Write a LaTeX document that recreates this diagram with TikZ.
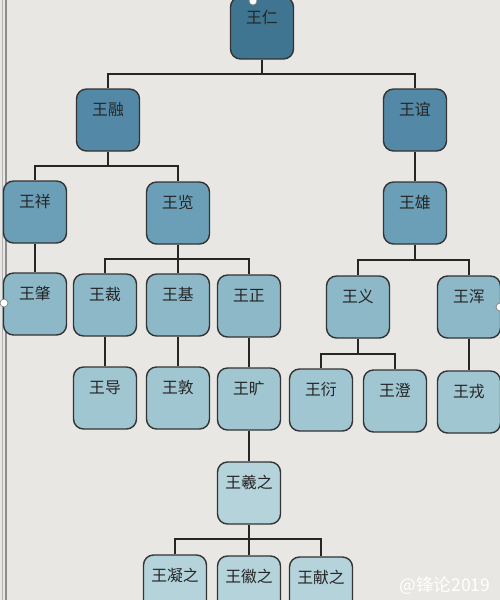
\documentclass[tikz,border=0pt]{standalone}
\usepackage{fontspec}
\newfontfamily\cjk{Noto Sans CJK SC}
\usetikzlibrary{calc}
\definecolor{paper}{RGB}{233,231,228}
\definecolor{lvA}{RGB}{63,117,144}
\definecolor{lvB}{RGB}{83,137,166}
\definecolor{lvC}{RGB}{107,159,183}
\definecolor{lvD}{RGB}{140,184,200}
\definecolor{lvE}{RGB}{160,198,210}
\definecolor{lvF}{RGB}{181,211,218}
\tikzset{
  box/.style={draw=black!80, line width=0.8pt, rounded corners=0.2cm, minimum width=1.26cm,
    inner sep=0pt, text height=0.53cm, text depth=0.71cm, text=black!85,
    font=\cjk\fontsize{9}{11}\selectfont},
  link/.style={line width=1.3pt, black!85}
}

\begin{document}
\begin{tikzpicture}[x=0.02cm, y=-0.02cm]
			%%%%% START %%%%%
			\fill[paper] (0, 0) rectangle (500, 600);
			\useasboundingbox (0, 0) rectangle (500, 600);
			\draw[black!45, line width=0.6pt] (6, 0) -- (6, 600);
			\draw[black!30, line width=0.4pt] (2, 0) -- (2, 600);
			
			% generation 1-2
			\node[box, fill=lvA] (ren) at (262, 28) {王仁};
			\node[box, fill=lvB] (rong) at (108, 120) {王融};
			\node[box, fill=lvB] (yi) at (415, 120) {王谊};
			
			% generation 3
			\node[box, fill=lvC] (xiang) at (35, 212) {王祥};
			\node[box, fill=lvC] (lan) at (178, 213) {王览};
			\node[box, fill=lvC] (xiong) at (415, 213) {王雄};
			
			% generation 4
			\node[box, fill=lvD] (zhao) at (35, 304) {王肇};
			\node[box, fill=lvD] (cai) at (105, 305) {王裁};
			\node[box, fill=lvD] (ji) at (178, 305) {王基};
			\node[box, fill=lvD] (zheng) at (249, 306) {王正};
			\node[box, fill=lvD] (yiy) at (358, 307) {王义};
			\node[box, fill=lvD] (hun) at (469, 307) {王浑};
			
			% generation 5
			\node[box, fill=lvE] (dao) at (105, 398) {王导};
			\node[box, fill=lvE] (dun) at (178, 398) {王敦};
			\node[box, fill=lvE] (kuang) at (249, 399) {王旷};
			\node[box, fill=lvE] (yan) at (321, 400) {王衍};
			\node[box, fill=lvE] (cheng) at (395, 401) {王澄};
			\node[box, fill=lvE] (rongx) at (469, 402) {王戎};
			
			% generation 6-7
			\node[box, fill=lvF] (xizhi) at (249, 493) {王羲之};
			\node[box, fill=lvF] (ningzhi) at (175, 586) {王凝之};
			\node[box, fill=lvF] (huizhi) at (249, 587) {王徽之};
			\node[box, fill=lvF] (xianzhi) at (321, 588) {王献之};
			
			% bars
			\coordinate (renbar) at (262, 74);
			\coordinate (rongbar) at (108, 166);
			\coordinate (lanbar) at (178, 259);
			\coordinate (xiongbar) at (415, 260);
			\coordinate (yiybar) at (358, 354);
			\coordinate (xizhibar) at (249, 539);
			
			\draw[link] (ren.south) -- (renbar);
			\draw[link] (rong.north) |- (renbar) -| (yi.north);
			\draw[link] (rong.south) -- (rongbar);
			\draw[link] (xiang.north) |- (rongbar) -| (lan.north);
			\draw[link] (yi.south) -- (xiong.north);
			
			\draw[link] (xiang.south) -- (zhao.north);
			\draw[link] (lan.south) -- (ji.north);
			\draw[link] (cai.north) |- (lanbar) -| (zheng.north);
			\draw[link] (xiong.south) -- (xiongbar);
			\draw[link] (yiy.north) |- (xiongbar) -| (hun.north);
			
			\draw[link] (cai.south) -- (dao.north);
			\draw[link] (ji.south) -- (dun.north);
			\draw[link] (zheng.south) -- (kuang.north);
			\draw[link] (yiy.south) -- (yiybar);
			\draw[link] (yan.north) |- (yiybar) -| (cheng.north);
			\draw[link] (hun.south) -- (rongx.north);
			
			\draw[link] (kuang.south) -- (xizhi.north);
			\draw[link] (xizhi.south) -- (huizhi.north);
			\draw[link] (ningzhi.north) |- (xizhibar) -| (xianzhi.north);
			
			% handles
			\draw[black!50, fill=white] (253, 1) circle (4);
			\draw[black!50, fill=white] (4, 303) circle (4);
			\draw[black!50, fill=white] (500, 307) circle (4);
			
			\node[white, font=\cjk\fontsize{10}{12}\selectfont] (mark) at (445, 586) {@锋论2019};
			%%%%% END %%%%%
\end{tikzpicture}
\end{document}
